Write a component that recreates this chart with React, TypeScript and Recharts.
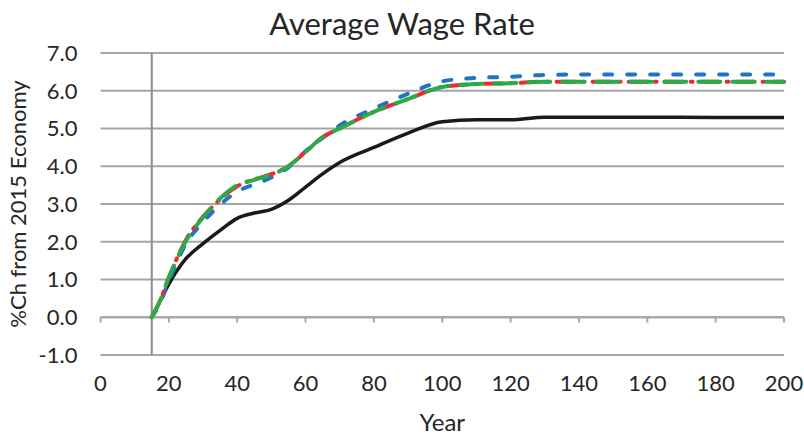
import React from "react";
import {
  LineChart,
  Line,
  XAxis,
  YAxis,
  CartesianGrid,
  ReferenceLine,
  Label,
} from "recharts";

const years = [15, 17, 20, 25, 30, 35, 40, 45, 50, 55, 60, 65, 70, 80, 90, 100, 110, 120, 130, 140, 160, 180, 200];

const baseline = [0, 0.35, 0.88, 1.55, 1.95, 2.3, 2.62, 2.76, 2.86, 3.1, 3.45, 3.8, 4.1, 4.5, 4.88, 5.18, 5.23, 5.23, 5.3, 5.3, 5.3, 5.29, 5.29];
const blueSeries = [0, 0.3, 0.95, 1.95, 2.52, 2.98, 3.33, 3.52, 3.7, 3.97, 4.4, 4.75, 5.08, 5.53, 5.92, 6.25, 6.34, 6.37, 6.42, 6.43, 6.43, 6.43, 6.43];
const redSeries = [0, 0.35, 1.05, 2.05, 2.66, 3.12, 3.47, 3.65, 3.79, 4.0, 4.38, 4.77, 5.0, 5.44, 5.78, 6.1, 6.18, 6.2, 6.24, 6.24, 6.24, 6.24, 6.24];
const greenSeries = [0, 0.35, 1.05, 2.02, 2.65, 3.15, 3.5, 3.64, 3.78, 4.0, 4.38, 4.77, 5.0, 5.44, 5.78, 6.1, 6.18, 6.2, 6.24, 6.24, 6.24, 6.24, 6.24];

const xTicks = [0, 20, 40, 60, 80, 100, 120, 140, 160, 180, 200];
const yTicks = [-1, 0, 1, 2, 3, 4, 5, 6, 7];

const data = years.map((year, i) => ({
  year,
  base: baseline[i],
  blue: blueSeries[i],
  red: redSeries[i],
  green: greenSeries[i],
}));

const font = "Lato, 'Open Sans', sans-serif";
const gridColor = "#a6a6a6";

export default function App() {
  return (
    <div style={{ position: "absolute", left: 0, top: 0, width: 804, height: 435, background: "#fff", fontFamily: font }}>
      <div
        style={{
          position: "absolute",
          top: 4,
          left: 0,
          width: 804,
          textAlign: "center",
          fontSize: 31,
          color: "#262626",
        }}
      >
        Average Wage Rate
      </div>
      <LineChart
        width={804}
        height={435}
        data={data}
        margin={{ top: 53, right: 20, bottom: 0, left: 0 }}
      >
        <CartesianGrid vertical={false} stroke={gridColor} strokeWidth={2} />
        <XAxis
          dataKey="year"
          type="number"
          domain={[0, 200]}
          ticks={xTicks}
          axisLine={false}
          tickLine={false}
          tickMargin={14}
          height={80}
          tick={{ fontSize: 22, fill: "#262626", fontFamily: font }}
        >
          <Label
            value="Year"
            position="insideBottom"
            offset={4}
            style={{ fontSize: 24, fill: "#262626", fontFamily: font }}
          />
        </XAxis>
        <YAxis
          type="number"
          domain={[-1, 7]}
          ticks={yTicks}
          width={100.5}
          axisLine={false}
          tickLine={false}
          tickMargin={17}
          tickFormatter={(v: number) => v.toFixed(1)}
          tick={{ fontSize: 22, fill: "#262626", fontFamily: font }}
        >
          <Label
            value="%Ch from 2015 Economy"
            angle={-90}
            position="insideLeft"
            offset={18}
            style={{ fontSize: 22, fill: "#262626", fontFamily: font, textAnchor: "middle" }}
          />
        </YAxis>
        <ReferenceLine y={0} stroke={gridColor} strokeWidth={2} />
        {xTicks.map((t) => (
          <ReferenceLine
            key={t}
            segment={[{ x: t, y: 0 }, { x: t, y: -0.14 }]}
            stroke={gridColor}
            strokeWidth={2}
            ifOverflow="visible"
          />
        ))}
        <ReferenceLine x={15} stroke="#8c8c8c" strokeWidth={2} />
        <Line
          type="monotone"
          dataKey="base"
          stroke="#1a1a1a"
          strokeWidth={3.5}
          dot={false}
          isAnimationActive={false}
        />
        <Line
          type="monotone"
          dataKey="blue"
          stroke="#1f75c2"
          strokeWidth={4}
          strokeDasharray="8 15"
          strokeLinecap="round"
          dot={false}
          isAnimationActive={false}
        />
        <Line
          type="monotone"
          dataKey="red"
          stroke="#ee2a2f"
          strokeWidth={4}
          strokeDasharray="18 8 2 8"
          strokeLinecap="round"
          dot={false}
          isAnimationActive={false}
        />
        <Line
          type="monotone"
          dataKey="green"
          stroke="#2aab4a"
          strokeWidth={4}
          strokeDasharray="22 12"
          strokeLinecap="round"
          dot={false}
          isAnimationActive={false}
        />
      </LineChart>
    </div>
  );
}
